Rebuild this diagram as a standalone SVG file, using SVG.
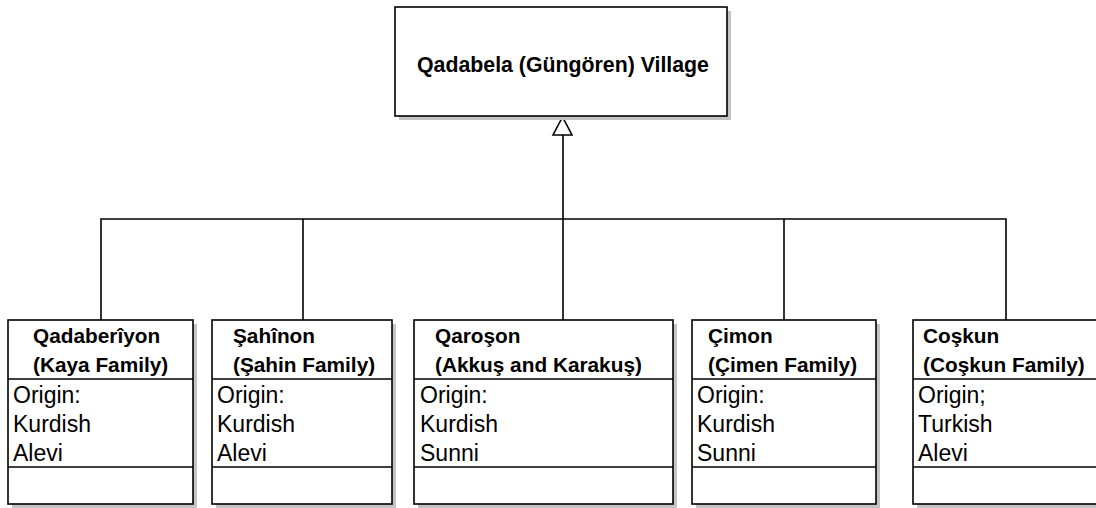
<svg xmlns="http://www.w3.org/2000/svg" width="1096" height="508" viewBox="0 0 1096 508">
<style>
.box{fill:#fff;stroke:#000;stroke-width:1.6}
.shadow{fill:#c4c4c4}
.sep{stroke:#000;stroke-width:1.6}
.conn{fill:none;stroke:#000;stroke-width:1.6}
.hd{font-family:"Liberation Sans",Arial,sans-serif;font-weight:bold;font-size:20.8px;fill:#000}
.top{font-size:21.3px}
.at{font-family:"Liberation Sans",Arial,sans-serif;font-size:23px;fill:#000}
</style>
<rect width="1096" height="508" fill="#fff"/>
<g id="connectors">
<path class="conn" d="M101,320 V219 H1006 V320 M303,219 V320 M784,219 V320 M563,320 V135"/>
<polygon points="562.5,117 553,135 572,135" fill="#fff" stroke="#000" stroke-width="1.6"/>
</g>
<g id="village">
<rect class="shadow" x="399" y="11" width="332" height="109"/>
<rect class="box" x="395" y="7" width="332" height="109"/>
<text class="hd top" x="563" y="72" text-anchor="middle">Qadabela (Güngören) Village</text>
</g>
<g id="qadaberiyon">
<rect class="shadow" x="12" y="324" width="185" height="184"/>
<rect class="box" x="8" y="320" width="185" height="184"/>
<line class="sep" x1="8" y1="379" x2="193" y2="379"/>
<line class="sep" x1="8" y1="467" x2="193" y2="467"/>
<text class="hd" x="33" y="343">Qadaberîyon</text>
<text class="hd" x="33" y="372">(Kaya Family)</text>
<text class="at" x="13" y="403">Origin:</text>
<text class="at" x="13" y="432">Kurdish</text>
<text class="at" x="13" y="461">Alevi</text>
</g>
<g id="sahinon">
<rect class="shadow" x="216" y="324" width="180" height="184"/>
<rect class="box" x="212" y="320" width="180" height="184"/>
<line class="sep" x1="212" y1="379" x2="392" y2="379"/>
<line class="sep" x1="212" y1="467" x2="392" y2="467"/>
<text class="hd" x="233" y="343">Şahînon</text>
<text class="hd" x="233" y="372">(Şahin Family)</text>
<text class="at" x="217" y="403">Origin:</text>
<text class="at" x="217" y="432">Kurdish</text>
<text class="at" x="217" y="461">Alevi</text>
</g>
<g id="qaroson">
<rect class="shadow" x="418" y="324" width="259" height="184"/>
<rect class="box" x="414" y="320" width="259" height="184"/>
<line class="sep" x1="414" y1="379" x2="673" y2="379"/>
<line class="sep" x1="414" y1="467" x2="673" y2="467"/>
<text class="hd" x="435" y="343">Qaroşon</text>
<text class="hd" x="435" y="372">(Akkuş and Karakuş)</text>
<text class="at" x="420" y="403">Origin:</text>
<text class="at" x="420" y="432">Kurdish</text>
<text class="at" x="420" y="461">Sunni</text>
</g>
<g id="cimon">
<rect class="shadow" x="696" y="324" width="184" height="184"/>
<rect class="box" x="692" y="320" width="184" height="184"/>
<line class="sep" x1="692" y1="379" x2="876" y2="379"/>
<line class="sep" x1="692" y1="467" x2="876" y2="467"/>
<text class="hd" x="708" y="343">Çimon</text>
<text class="hd" x="708" y="372">(Çimen Family)</text>
<text class="at" x="697" y="403">Origin:</text>
<text class="at" x="697" y="432">Kurdish</text>
<text class="at" x="697" y="461">Sunni</text>
</g>
<g id="coskun">
<rect class="shadow" x="917" y="324" width="190" height="184"/>
<rect class="box" x="913" y="320" width="190" height="184"/>
<line class="sep" x1="913" y1="379" x2="1103" y2="379"/>
<line class="sep" x1="913" y1="467" x2="1103" y2="467"/>
<text class="hd" x="923" y="343">Coşkun</text>
<text class="hd" x="923" y="372">(Coşkun Family)</text>
<text class="at" x="918" y="403">Origin;</text>
<text class="at" x="918" y="432">Turkish</text>
<text class="at" x="918" y="461">Alevi</text>
</g>
</svg>
